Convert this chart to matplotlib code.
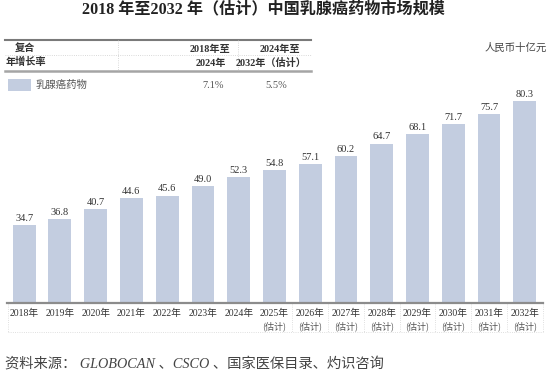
import matplotlib
matplotlib.use('Agg')
import matplotlib.pyplot as plt
import matplotlib.transforms as mtransforms
from matplotlib.lines import Line2D
from matplotlib.patches import Rectangle

# Data
years = ['2018年', '2019年', '2020年', '2021年', '2022年', '2023年', '2024年',
         '2025年', '2026年', '2027年', '2028年', '2029年', '2030年', '2031年', '2032年']
is_estimate = [False] * 7 + [True] * 8
values = [34.7, 36.8, 40.7, 44.6, 45.6, 49.0, 52.3,
          54.8, 57.1, 60.2, 64.7, 68.1, 71.7, 75.7, 80.3]
series_name = '乳腺癌药物'
cagr_periods = [('2018年至', '2024年'), ('2024年至', '2032年（估计）')]
cagr_values = ['7.1%', '5.5%']
title = '2018 年至2032 年（估计）中国乳腺癌药物市场规模'
unit = '人民币十亿元'
source = '资料来源： GLOBOCAN 、CSCO 、国家医保目录、灼识咨询'

BAR = '#c3cde0'
TXT = '#333333'
MIX = ['Liberation Serif', 'Noto Sans CJK SC']
CJK = ['Noto Sans CJK SC', 'DejaVu Sans']

W, H = 554, 379
fig = plt.figure(figsize=(W / 100, H / 100), dpi=100)


def fx(px):
    return px / W


def fy(py):
    return 1 - py / H


# title
fig.text(fx(263), fy(9), title, ha='center', va='center', fontsize=11.6,
         fontweight='bold', family=MIX, color='#222222')

# CAGR table at the top
fig.add_artist(Line2D([fx(5), fx(311)], [fy(40), fy(40)], color='#7a7a7a', lw=1.5))
fig.add_artist(Line2D([fx(5), fx(311)], [fy(55), fy(55)], color='#cccccc', lw=0.6, ls=':'))
fig.add_artist(Line2D([fx(5), fx(311)], [fy(71), fy(71)], color='#a5a5a5', lw=1.8))
for xv in (118, 238):
    fig.add_artist(Line2D([fx(xv), fx(xv)], [fy(40), fy(71)], color='#cccccc', lw=0.6, ls=':'))

fig.text(fx(15), fy(49), '复合', ha='left', va='center', fontsize=7.3,
         fontweight='bold', family=CJK, color=TXT)
fig.text(fx(6), fy(62), '年增长率', ha='left', va='center', fontsize=7.3,
         fontweight='bold', family=CJK, color=TXT)
for (p1, p2), xr1, xr2 in zip(cagr_periods, (230, 300), (226, 307)):
    fig.text(fx(xr1), fy(49), p1, ha='right', va='center', fontsize=7.3,
             fontweight='bold', family=MIX, color=TXT)
    fig.text(fx(xr2), fy(63), p2, ha='right', va='center', fontsize=7.3,
             fontweight='bold', family=MIX, color=TXT)

fig.add_artist(Rectangle((fx(8), fy(91)), fx(23), 12 / H, color=BAR, lw=0))
fig.text(fx(36), fy(85), series_name, ha='left', va='center', fontsize=7.5,
         family=CJK, color='#555555')
for val, xc in zip(cagr_values, (213, 276)):
    fig.text(fx(xc), fy(85), val, ha='center', va='center', fontsize=7.5,
             family=MIX, color='#555555')

fig.text(fx(547), fy(48), unit, ha='right', va='center', fontsize=7.5,
         style='italic', family=CJK, color='#444444')

# bars
ax = fig.add_axes([fx(7), fy(303.3), fx(536), 215 / H])
x = list(range(len(values)))
ax.bar(x, values, width=0.64, color=BAR, zorder=2)
ax.set_xlim(-0.48, 14.51)
ax.set_ylim(6, 85)
for s in ('top', 'right', 'left'):
    ax.spines[s].set_visible(False)
ax.spines['bottom'].set_color('#8c8c8c')
ax.spines['bottom'].set_linewidth(1.6)
ax.set_yticks([])
ax.set_xticks(x, years)
ax.tick_params(axis='x', length=0, pad=4, labelsize=7, labelcolor=TXT)
for lab in ax.get_xticklabels():
    lab.set_family(MIX)

for i, v in enumerate(values):
    ax.annotate(f'{v:.1f}', (i, v), xytext=(0, 1.5), textcoords='offset points',
                ha='center', va='bottom', fontsize=7.5, family=MIX, color=TXT)

trans = mtransforms.blended_transform_factory(ax.transData, ax.transAxes)
for i, est in enumerate(is_estimate):
    if est:
        ax.text(i, -0.105, '(估计)', transform=trans, ha='center', va='center',
                fontsize=6.5, family=CJK, color='#555555')

# faint dotted cell borders under the axis
y0, y1 = -0.003, -0.133
ax.plot([-0.45, 14.51], [y1, y1], transform=trans, color='#d5d5d5', lw=0.6,
        ls=':', clip_on=False)
ax.plot([-0.45, -0.45], [y0, y1], transform=trans, color='#d5d5d5', lw=0.6,
        ls=':', clip_on=False)
ax.plot([14.51, 14.51], [y0, y1], transform=trans, color='#d5d5d5', lw=0.6,
        ls=':', clip_on=False)
for i in range(7, len(values) - 1):
    ax.plot([i + 0.5, i + 0.5], [y0, y1], transform=trans, color='#d5d5d5',
            lw=0.6, ls=':', clip_on=False)

fig.text(fx(5), fy(364), source, ha='left', va='center', fontsize=10.3,
         style='italic', family=MIX, color='#444444')

fig.savefig('out.png', dpi=100)
